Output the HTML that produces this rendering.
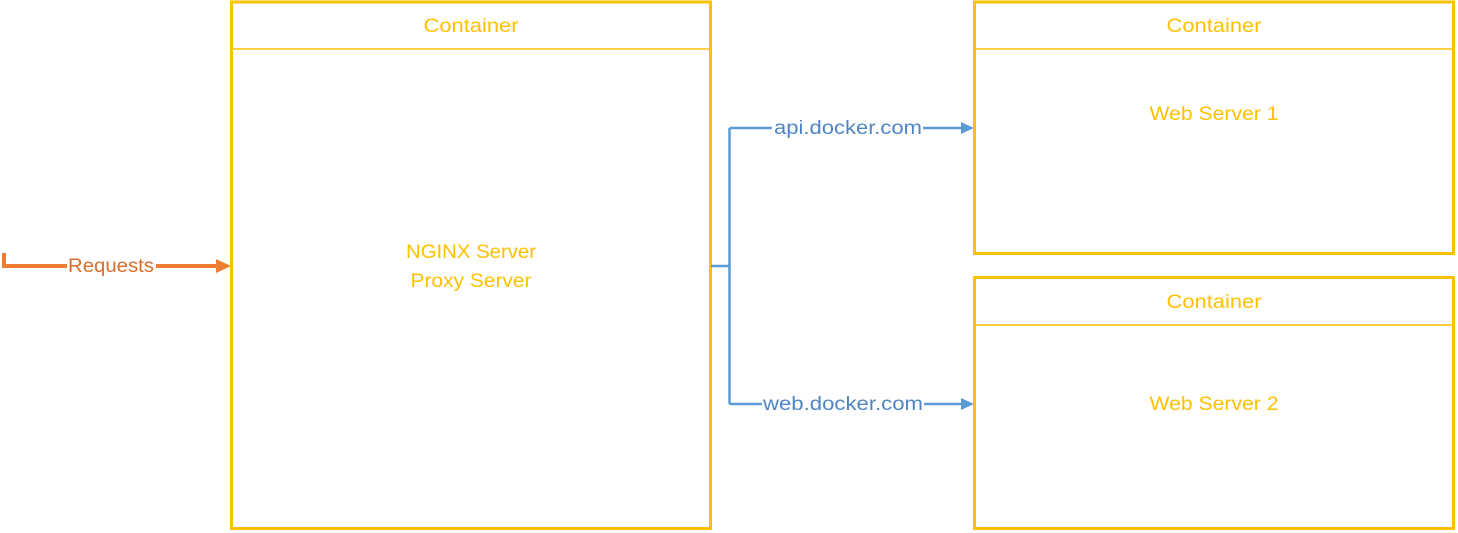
<!DOCTYPE html>
<html><head><meta charset="utf-8"><style>
html,body{margin:0;padding:0;background:#fff;width:1458px;height:533px;overflow:hidden}
</style></head><body>
<svg width="1458" height="533" xmlns="http://www.w3.org/2000/svg" font-family="Liberation Sans, sans-serif">
<g fill="none" stroke="#FFC000">
<rect x="231.5" y="2" width="479" height="526.5" stroke-width="3"/>
<line x1="231" y1="49" x2="711" y2="49" stroke-width="1.5"/>
<rect x="974.5" y="2" width="479" height="251.5" stroke-width="3"/>
<line x1="974" y1="49" x2="1454" y2="49" stroke-width="1.5"/>
<rect x="974.5" y="277.5" width="479" height="251" stroke-width="3"/>
<line x1="974" y1="325" x2="1454" y2="325" stroke-width="1.5"/>
</g>
<g fill="#FFC000" font-size="19" text-anchor="middle">
<text x="471" y="32" textLength="95" lengthAdjust="spacingAndGlyphs">Container</text>
<text x="1214" y="32" textLength="95" lengthAdjust="spacingAndGlyphs">Container</text>
<text x="1214" y="308" textLength="95" lengthAdjust="spacingAndGlyphs">Container</text>
<text x="471" y="258" textLength="130" lengthAdjust="spacingAndGlyphs">NGINX Server</text>
<text x="471" y="287" textLength="121" lengthAdjust="spacingAndGlyphs">Proxy Server</text>
<text x="1214" y="120" textLength="129" lengthAdjust="spacingAndGlyphs">Web Server 1</text>
<text x="1214" y="410" textLength="129" lengthAdjust="spacingAndGlyphs">Web Server 2</text>
</g>
<path d="M4 253 V266 H218" fill="none" stroke="#ED7D31" stroke-width="4"/>
<polygon points="216,259 231,266 216,273" fill="#ED7D31"/>
<rect x="67" y="255" width="89" height="22" fill="#fff"/>
<text x="111" y="272" fill="#D86F2C" font-size="19" text-anchor="middle" textLength="86" lengthAdjust="spacingAndGlyphs">Requests</text>
<path d="M711 266 H729.5 M729.5 128 V404 M729.5 128 H962 M729.5 404 H962" fill="none" stroke="#5B9BD5" stroke-width="2.5"/>
<polygon points="961,122 974,128 961,134" fill="#5B9BD5"/>
<polygon points="961,398 974,404 961,410" fill="#5B9BD5"/>
<rect x="772" y="118" width="151" height="22" fill="#fff"/>
<rect x="762" y="394" width="162" height="22" fill="#fff"/>
<g fill="#4F86C6" font-size="19" text-anchor="middle">
<text x="848" y="134" textLength="148" lengthAdjust="spacingAndGlyphs">api.docker.com</text>
<text x="843" y="410" textLength="160" lengthAdjust="spacingAndGlyphs">web.docker.com</text>
</g>
</svg>
</body></html>
